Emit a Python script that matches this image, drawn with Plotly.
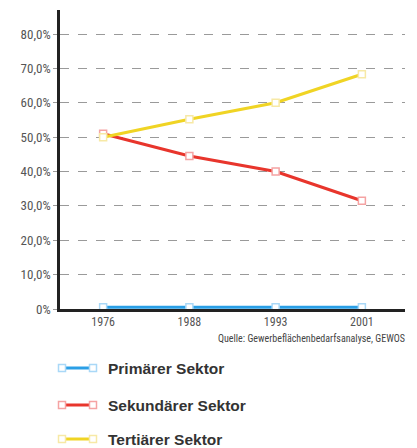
import plotly.graph_objects as go

years = ["1976", "1988", "1993", "2001"]
primaer = [0.5, 0.5, 0.5, 0.5]
sekundaer = [51.0, 44.5, 40.0, 31.5]
tertiaer = [50.0, 55.2, 60.0, 68.3]
series_names = ["Primärer Sektor", "Sekundärer Sektor", "Tertiärer Sektor"]
y_tick_vals = [0, 10, 20, 30, 40, 50, 60, 70, 80]
y_tick_text = ["0%", "10,0%", "20,0%", "30,0%", "40,0%", "50,0%", "60,0%", "70,0%", "80,0%"]
source_text = "Quelle: Gewerbeflächenbedarfsanalyse, GEWOS"

line_colors = ["#2a9fe6", "#e8352c", "#f0d424"]
marker_edge = ["#a9d8f7", "#f5a3a3", "#f7e9a6"]

W, H = 417, 448
ML, MR, MT, MB = 60, 12, 10, 139
PW, PH = W - ML - MR, H - MT - MB

def px(x):
    return (x - ML) / PW

def py(y):
    return (H - MB - y) / PH

fig = go.Figure()
for vals, name, lc, mc in zip([primaer, sekundaer, tertiaer], series_names, line_colors, marker_edge):
    fig.add_trace(go.Scatter(
        x=years, y=vals, name=name, mode="lines+markers",
        line=dict(color=lc, width=3),
        marker=dict(symbol="square", size=7, color="white", line=dict(color=mc, width=1.5)),
        showlegend=False, cliponaxis=False,
    ))

font_narrow = "Liberation Sans Narrow, Roboto Condensed, DejaVu Sans Condensed, Arial Narrow, sans-serif"

fig.update_layout(
    width=W, height=H,
    margin=dict(l=ML, r=MR, t=MT, b=MB),
    paper_bgcolor="white", plot_bgcolor="white",
    xaxis=dict(
        type="category", range=[-0.5, 3.5], showgrid=False,
        showline=True, linecolor="#222", linewidth=2.5,
        ticks="", tickfont=dict(family=font_narrow, size=12, color="#555"),
        zeroline=False,
    ),
    yaxis=dict(
        range=[0, 87], tickvals=y_tick_vals, ticktext=y_tick_text,
        showgrid=True, gridcolor="#9a9a9a", griddash="dash", gridwidth=1,
        showline=True, linecolor="#222", linewidth=2.5,
        ticks="outside", ticklen=4, tickcolor="#9a9a9a",
        tickfont=dict(family=font_narrow, size=13, color="#555"),
        zeroline=False,
    ),
)

fig.add_annotation(
    text=source_text, xref="paper", yref="paper",
    x=px(407), y=py(338), xanchor="right", yanchor="middle",
    showarrow=False, font=dict(family=font_narrow, size=10, color="#444"),
)

legend_y = [368, 405, 439]
for ly, name, lc, mc in zip(legend_y, series_names, line_colors, marker_edge):
    fig.add_shape(type="line", xref="paper", yref="paper",
                  x0=px(62), x1=px(93), y0=py(ly), y1=py(ly),
                  line=dict(color=lc, width=3))
    for cx in (62, 93):
        fig.add_shape(type="rect", xref="paper", yref="paper",
                      x0=px(cx - 3.5), x1=px(cx + 3.5), y0=py(ly - 3.5), y1=py(ly + 3.5),
                      fillcolor="white", line=dict(color=mc, width=1.5))
    fig.add_annotation(
        text="<b>" + name + "</b>", xref="paper", yref="paper",
        x=px(106), y=py(ly), xanchor="left", yanchor="middle",
        showarrow=False, font=dict(family="Liberation Sans, Arial, sans-serif", size=15.5, color="#333"),
    )

fig.write_html(
    "out.html",
    config={"displayModeBar": False},
    post_script="document.body.style.margin='0';document.body.style.padding='0';document.body.style.overflow='hidden';",
)
